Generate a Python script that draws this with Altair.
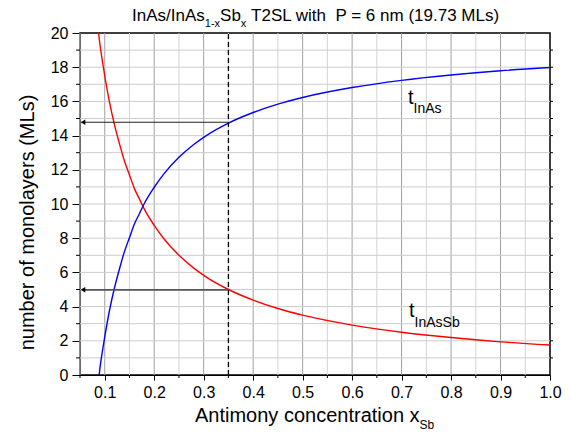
import altair as alt
import pandas as pd

# ---- data ----
x_red = [0.0875, 0.09, 0.095, 0.10, 0.11, 0.12, 0.13, 0.14, 0.15, 0.16, 0.17, 0.18,
         0.20, 0.22, 0.25, 0.28, 0.30, 0.35, 0.40, 0.45, 0.50, 0.60, 0.70, 0.80, 0.90, 1.00]
t_inassb = [20.0, 19.4, 18.4, 17.5, 15.9, 14.6, 13.5, 12.5, 11.7, 10.9, 10.3, 9.7,
            8.75, 7.95, 7.0, 6.25, 5.83, 5.0, 4.38, 3.89, 3.5, 2.92, 2.5, 2.19, 1.94, 1.75]
x_blue = [0.0887, 0.09, 0.095, 0.10, 0.11, 0.12, 0.13, 0.14, 0.15, 0.16, 0.17, 0.18,
          0.20, 0.22, 0.25, 0.28, 0.30, 0.35, 0.40, 0.45, 0.50, 0.60, 0.70, 0.80, 0.90, 1.00]
t_inas = [0.0, 0.33, 1.33, 2.23, 3.83, 5.13, 6.23, 7.23, 8.03, 8.83, 9.43, 10.03,
          10.98, 11.78, 12.73, 13.48, 13.9, 14.73, 15.35, 15.84, 16.23, 16.81, 17.23, 17.54, 17.79, 17.98]

x_marker = 0.35
arrow_y = [14.78, 4.98]
arrow_end = 0.056

x_major = [0.1, 0.2, 0.3, 0.4, 0.5, 0.6, 0.7, 0.8, 0.9, 1.0]
x_minor = [0.05, 0.15, 0.25, 0.35, 0.45, 0.55, 0.65, 0.75, 0.85, 0.95]
y_major = [0, 2, 4, 6, 8, 10, 12, 14, 16, 18, 20]
y_minor = [1, 3, 5, 7, 9, 11, 13, 15, 17, 19]
y_grid = list(range(1, 20))

W, H = 470, 342
FONT = "Liberation Sans"

xs = alt.Scale(domain=[0.05, 1.0], nice=False, zero=False)
ys = alt.Scale(domain=[0, 20], nice=False, zero=False)

AX = alt.Axis(values=x_major, format=".1f", title=None, grid=False, tickSize=5,
              labelFontSize=16, labelFont=FONT, labelColor="black", labelPadding=4,
              domainColor="black", tickColor="black", labelFlush=False, labelOverlap=False)
AY = alt.Axis(values=y_major, title="number of monolayers (MLs)", grid=False, tickSize=8,
              labelFontSize=16, labelFont=FONT, labelColor="black", labelPadding=4,
              titleFontSize=20, titleFont=FONT, titleFontWeight="normal", titleColor="black",
              titleX=-47, titleY=189, titleBaseline="alphabetic", titleAngle=270,
              titleAlign="center", domainColor="black", tickColor="black",
              labelFlush=False, labelOverlap=False)

# Arial/Liberation advance widths (per 1000 em) for text layout
AW = dict(zip("abcdefghijklmnopqrstuvwxyz",
              [556, 556, 500, 556, 556, 278, 556, 556, 222, 222, 500, 222, 833, 556, 556, 556, 556,
               333, 500, 278, 556, 500, 722, 500, 500, 500]))
AW.update(dict(zip("ABCDEFGHIJKLMNOPQRSTUVWXYZ",
                   [667, 667, 722, 722, 667, 611, 778, 722, 278, 500, 667, 556, 833, 722, 778, 667,
                    778, 722, 667, 611, 722, 667, 944, 667, 667, 611])))
AW.update({' ': 278, '\u00a0': 278, '.': 278, '-': 333, '(': 333, ')': 333, '/': 278, '=': 584})
for d in "0123456789":
    AW[d] = 556


def tw(s, size):
    return sum(AW.get(c, 556) for c in s) * size / 1000.0


def txt(s, x, y, size, align="left"):
    return alt.Chart(pd.DataFrame({"t": [s]})).mark_text(
        text=s, font=FONT, fontSize=size, align=align, baseline="alphabetic", color="black"
    ).encode(x=alt.value(x), y=alt.value(y))


def X(field="x"):
    return alt.X(f"{field}:Q", scale=xs, axis=AX)


def Y(field="y"):
    return alt.Y(f"{field}:Q", scale=ys, axis=AY)


# grid
minor_v = alt.Chart(pd.DataFrame({"x": x_minor})).mark_rule(color="#d4d4d4", strokeWidth=1).encode(x=X())
major_v = alt.Chart(pd.DataFrame({"x": x_major[:-1]})).mark_rule(color="#a0a0a0", strokeWidth=1).encode(x=X())
hgrid = alt.Chart(pd.DataFrame({"y": y_grid})).mark_rule(color="#cccccc", strokeWidth=1).encode(y=Y())

red_df = pd.DataFrame({"x": x_red, "y": t_inassb})
blue_df = pd.DataFrame({"x": x_blue, "y": t_inas})

red = alt.Chart(red_df).mark_line(color="#ff0000", strokeWidth=1.4, interpolate="monotone", clip=True).encode(
    x=X(), y=Y())
blue = alt.Chart(blue_df).mark_line(color="#0000ff", strokeWidth=1.4, interpolate="monotone", clip=True).encode(
    x=X(), y=Y())

dashed = alt.Chart(pd.DataFrame({"x": [x_marker], "y": [0], "y2": [20]})).mark_rule(
    color="black", strokeWidth=1.3, strokeDash=[5, 3]).encode(x=X(), y=Y(), y2="y2:Q")

arr_df = pd.DataFrame({"x": [x_marker, x_marker], "x2": [arrow_end, arrow_end], "y": arrow_y,
                       "w": [1.0, 1.8], "c": ["#222222", "#555555"]})
arrows = alt.Chart(arr_df).mark_rule().encode(
    x=X(), x2="x2:Q", y=Y(),
    strokeWidth=alt.StrokeWidth("w:Q", scale=None), color=alt.Color("c:N", scale=None))
heads = alt.Chart(pd.DataFrame({"x": [arrow_end, arrow_end], "y": arrow_y})).mark_point(
    shape="triangle-left", filled=True, color="black", size=30, opacity=1).encode(x=X(), y=Y())

# minor ticks
xminor_ticks = alt.Chart(pd.DataFrame({"x": x_minor})).mark_rule(color="black", strokeWidth=1).encode(
    x=X(), y=alt.value(H), y2=alt.value(H + 3))
yminor_ticks = alt.Chart(pd.DataFrame({"y": y_minor})).mark_rule(color="black", strokeWidth=1).encode(
    y=Y(), x=alt.value(-4), x2=alt.value(0))
right_ticks = alt.Chart(pd.DataFrame({"y": y_grid})).mark_rule(color="black", strokeWidth=1).encode(
    y=Y(), x=alt.value(W), x2=alt.value(W + 3))

# title pieces
T_MAIN, T_SUB = 17, 11
p1, p2, p3, p4, p5 = "InAs/InAs", "1-x", "Sb", "x", "T2SL with\u00a0 P = 6 nm (19.73 MLs)"
x0 = 132 - 80
ty = -12
title_parts = []
cx = x0
title_parts.append(txt(p1, cx, ty, T_MAIN)); cx += tw(p1, T_MAIN)
title_parts.append(txt(p2, cx, ty + 6, T_SUB)); cx += tw(p2, T_SUB)
title_parts.append(txt(p3, cx, ty, T_MAIN)); cx += tw(p3, T_MAIN)
title_parts.append(txt(p4, cx, ty + 6, T_SUB)); cx += tw(p4, T_SUB) + tw(" ", T_MAIN)
title_parts.append(txt(p5, cx, ty, T_MAIN))

# x axis title
XT, XS = 20, 12
xt_main = "Antimony concentration x"
xt0 = 195 - 80
xtitle = [txt(xt_main, xt0, 389, XT), txt("Sb", xt0 + tw(xt_main, XT), 396, XS)]

# curve labels
labels = [txt("t", 328, 71, 20), txt("InAs", 328 + tw("t", 20), 80, 14),
          txt("t", 329, 284, 20), txt("InAsSb", 329 + tw("t", 20), 294, 14)]

chart = alt.layer(
    minor_v, major_v, hgrid, red, blue, dashed, arrows, heads,
    xminor_ticks, yminor_ticks, right_ticks, *title_parts, *xtitle, *labels
).properties(
    width=W, height=H,
    padding={"left": 80, "top": 33, "right": 21, "bottom": 64},
    autosize=alt.AutoSizeParams(type="none"),
    background="white"
).configure_view(stroke="black", strokeWidth=1.5)

chart.save("out.html", embed_options={"renderer": "svg", "actions": False})
